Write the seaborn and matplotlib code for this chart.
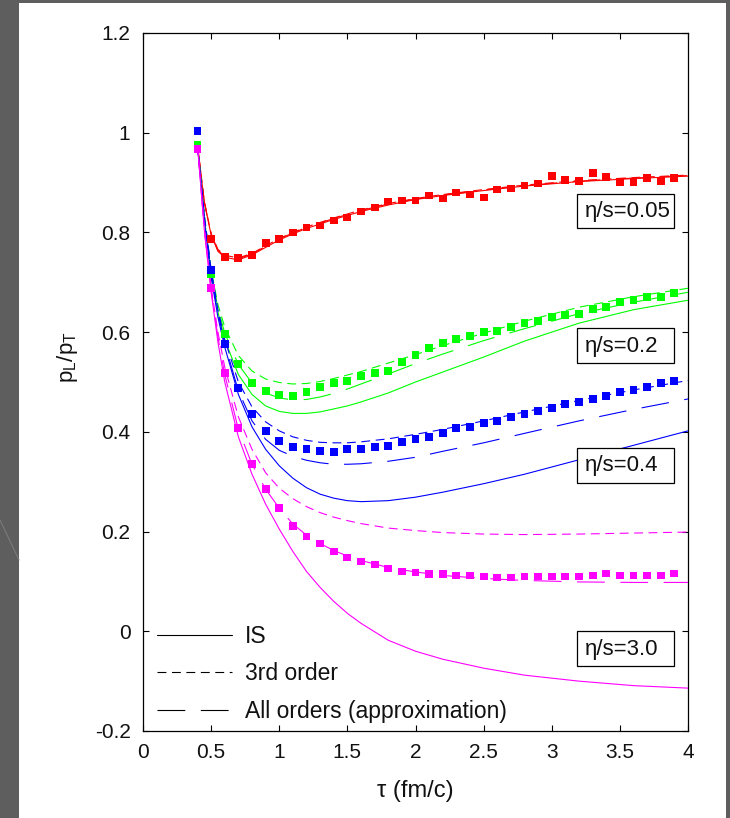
import numpy as np
import pandas as pd
import matplotlib
matplotlib.use("Agg")
import matplotlib.pyplot as plt
from matplotlib.lines import Line2D
from matplotlib.patches import Rectangle
from matplotlib.ticker import FuncFormatter, MultipleLocator
import seaborn as sns

# ---------------- data ----------------
# proper time of the sampled points (fm/c)
tau_pts = [0.4, 0.5, 0.6, 0.7, 0.8, 0.9, 1.0, 1.1, 1.2, 1.3, 1.4, 1.5,
           1.6, 1.7, 1.8, 1.9, 2.0, 2.1, 2.2, 2.3, 2.4, 2.5, 2.6, 2.7,
           2.8, 2.9, 3.0, 3.1, 3.2, 3.3, 3.4, 3.5, 3.6, 3.7, 3.8, 3.9]

# transport results, pL/pT
pts_005 = [0.970, 0.786, 0.750, 0.748, 0.754, 0.778, 0.786, 0.800, 0.810, 0.814,
           0.824, 0.830, 0.842, 0.850, 0.862, 0.864, 0.864, 0.874, 0.868, 0.880,
           0.876, 0.870, 0.886, 0.888, 0.894, 0.898, 0.914, 0.906, 0.904, 0.920,
           0.912, 0.902, 0.902, 0.910, 0.904, 0.910]
pts_02 = [0.975, 0.716, 0.596, 0.536, 0.498, 0.482, 0.474, 0.472, 0.480, 0.490,
          0.498, 0.502, 0.512, 0.518, 0.522, 0.540, 0.554, 0.568, 0.578, 0.586,
          0.592, 0.600, 0.602, 0.610, 0.618, 0.622, 0.630, 0.634, 0.636, 0.646,
          0.650, 0.660, 0.664, 0.670, 0.670, 0.678]
pts_04 = [1.003, 0.724, 0.576, 0.488, 0.436, 0.402, 0.382, 0.370, 0.366, 0.362,
          0.360, 0.366, 0.366, 0.370, 0.372, 0.380, 0.386, 0.390, 0.398, 0.408,
          0.410, 0.418, 0.422, 0.430, 0.436, 0.442, 0.448, 0.456, 0.460, 0.466,
          0.472, 0.480, 0.484, 0.490, 0.498, 0.502]
pts_30 = [0.968, 0.688, 0.518, 0.408, 0.336, 0.286, 0.248, 0.212, 0.190, 0.176,
          0.160, 0.148, 0.140, 0.134, 0.126, 0.120, 0.118, 0.115, 0.115, 0.112,
          0.112, 0.110, 0.108, 0.108, 0.110, 0.110, 0.110, 0.110, 0.110, 0.112,
          0.116, 0.112, 0.112, 0.112, 0.112, 0.116]

# proper time of the hydrodynamic curves (fm/c)
tau_curve = [0.4, 0.45, 0.5, 0.55, 0.6, 0.7, 0.8, 0.9, 1.0, 1.1, 1.2, 1.3,
             1.4, 1.5, 1.6, 1.8, 2.0, 2.2, 2.5, 2.8, 3.2, 3.6, 4.0]

# eta/s = 0.05
is_005 = [0.975, 0.860, 0.795, 0.762, 0.750, 0.745, 0.755, 0.770, 0.785, 0.797,
          0.808, 0.817, 0.826, 0.834, 0.842, 0.855, 0.866, 0.874, 0.884, 0.893,
          0.902, 0.908, 0.913]
o3_005 = [0.975, 0.862, 0.798, 0.766, 0.754, 0.749, 0.758, 0.773, 0.788, 0.800,
          0.811, 0.820, 0.829, 0.837, 0.845, 0.858, 0.868, 0.876, 0.886, 0.895,
          0.904, 0.910, 0.915]
all_005 = [0.975, 0.861, 0.797, 0.764, 0.752, 0.747, 0.757, 0.772, 0.787, 0.799,
           0.810, 0.819, 0.828, 0.836, 0.844, 0.857, 0.867, 0.875, 0.885, 0.894,
           0.903, 0.909, 0.914]
# eta/s = 0.2
is_02 = [0.975, 0.830, 0.715, 0.640, 0.585, 0.515, 0.475, 0.452, 0.441, 0.437,
         0.437, 0.440, 0.446, 0.452, 0.460, 0.478, 0.500, 0.520, 0.550, 0.582,
         0.618, 0.645, 0.664]
o3_02 = [0.975, 0.835, 0.725, 0.655, 0.610, 0.553, 0.522, 0.506, 0.499, 0.496,
         0.497, 0.501, 0.507, 0.514, 0.521, 0.538, 0.555, 0.573, 0.598, 0.622,
         0.650, 0.671, 0.688]
all_02 = [0.975, 0.832, 0.720, 0.648, 0.598, 0.535, 0.498, 0.478, 0.468, 0.464,
          0.465, 0.470, 0.477, 0.486, 0.496, 0.516, 0.537, 0.556, 0.583, 0.607,
          0.637, 0.660, 0.680]
# eta/s = 0.4
is_04 = [0.975, 0.825, 0.710, 0.630, 0.570, 0.475, 0.410, 0.365, 0.332, 0.307,
         0.288, 0.275, 0.267, 0.262, 0.260, 0.262, 0.269, 0.279, 0.296, 0.315,
         0.344, 0.373, 0.402]
o3_04 = [0.975, 0.835, 0.725, 0.645, 0.585, 0.500, 0.450, 0.420, 0.402, 0.390,
         0.383, 0.379, 0.378, 0.378, 0.380, 0.386, 0.395, 0.405, 0.422, 0.440,
         0.463, 0.484, 0.503]
all_04 = [0.975, 0.830, 0.720, 0.640, 0.577, 0.482, 0.422, 0.385, 0.363, 0.351,
          0.343, 0.338, 0.335, 0.335, 0.336, 0.341, 0.349, 0.361, 0.378, 0.397,
          0.422, 0.445, 0.466]
# eta/s = 3.0
is_30 = [0.975, 0.805, 0.680, 0.580, 0.500, 0.390, 0.315, 0.255, 0.205, 0.160,
         0.120, 0.088, 0.060, 0.036, 0.016, -0.018, -0.040, -0.056, -0.074, -0.088,
         -0.100, -0.109, -0.114]
o3_30 = [0.975, 0.810, 0.690, 0.600, 0.530, 0.430, 0.365, 0.318, 0.287, 0.266,
         0.250, 0.238, 0.229, 0.222, 0.216, 0.207, 0.202, 0.198, 0.195, 0.194,
         0.195, 0.197, 0.199]
all_30 = [0.975, 0.805, 0.685, 0.590, 0.515, 0.405, 0.335, 0.285, 0.247, 0.215,
          0.193, 0.176, 0.162, 0.151, 0.142, 0.128, 0.119, 0.112, 0.106, 0.102,
          0.099, 0.098, 0.098]

viscosities = ["0.05", "0.2", "0.4", "3.0"]
colors = ["#ff0000", "#00ff00", "#0000ff", "#ff00ff"]
legend_labels = ["IS", "3rd order", "All orders (approximation)"]

# ---------------- style ----------------
sns.set_theme(style="white")
plt.rcParams["font.family"] = ["Liberation Sans", "DejaVu Sans"]
plt.rcParams["mathtext.fontset"] = "custom"
plt.rcParams["mathtext.rm"] = "Liberation Sans"
plt.rcParams["mathtext.it"] = "Liberation Sans:italic"

LW = 0.8
STYLE_IS = "-"
STYLE_3RD = (0, (8, 5))
STYLE_ALL = (0, (25, 14))
TXT = "#111111"

fig = plt.figure(figsize=(7.3, 8.18), dpi=100, facecolor="#5e5e5e")
# white slide panel
fig.add_artist(Rectangle((19 / 730, 0), (726 - 19) / 730, (818 - 3) / 818,
                         transform=fig.transFigure, facecolor="white",
                         edgecolor="none", zorder=0))
fig.add_artist(Line2D([0, 19 / 730], [1 - 520 / 818, 1 - 560 / 818],
                      transform=fig.transFigure, color="#7a7a7a", lw=0.8,
                      zorder=0))

ax = fig.add_axes([143 / 730, 1 - 731 / 818, 545 / 730, 698 / 818])
ax.set_facecolor("white")

curves = [
    (is_005, o3_005, all_005, pts_005),
    (is_02, o3_02, all_02, pts_02),
    (is_04, o3_04, all_04, pts_04),
    (is_30, o3_30, all_30, pts_30),
]

z = 2
for (c_is, c_o3, c_all, pts), col in zip(curves, colors):
    for vals, ls in ((c_is, STYLE_IS), (c_o3, STYLE_3RD), (c_all, STYLE_ALL)):
        df = pd.DataFrame({"tau": tau_curve, "ratio": vals})
        sns.lineplot(data=df, x="tau", y="ratio", ax=ax, color=col, lw=LW,
                     linestyle=ls, sort=False, estimator=None, zorder=z)
    z += 1

for (c_is, c_o3, c_all, pts), col in zip(curves, colors):
    dfp = pd.DataFrame({"tau": tau_pts, "ratio": pts})
    sns.scatterplot(data=dfp, x="tau", y="ratio", ax=ax, color=col, marker="s",
                    s=32, edgecolor="none", linewidth=0, zorder=z)
    z += 1

# viscosity label boxes
box_y = [0.808, 0.538, 0.298, -0.070]
for vis, y0 in zip(viscosities, box_y):
    ax.add_patch(Rectangle((3.187, y0), 0.71, 0.07, facecolor="white",
                           edgecolor="black", lw=0.9, zorder=20))
    ax.text(3.24, y0 + 0.034, "\u03b7/s=" + vis, fontsize=16, ha="left",
            va="center", color=TXT, zorder=21)

# legend
handles = [Line2D([], [], color="black", lw=LW, linestyle=STYLE_IS),
           Line2D([], [], color="black", lw=LW, linestyle=STYLE_3RD),
           Line2D([], [], color="black", lw=LW, linestyle=STYLE_ALL)]
leg = ax.legend(handles, legend_labels, loc="upper left",
                bbox_to_anchor=(0.025, 0.152), frameon=False, fontsize=16.5,
                handlelength=3.27, handletextpad=0.57, labelspacing=0.63,
                borderpad=0, borderaxespad=0)
for t in leg.get_texts():
    t.set_color(TXT)
leg.set_zorder(30)

ax.set_xlim(0, 4)
ax.set_ylim(-0.2, 1.2)
ax.xaxis.set_major_locator(MultipleLocator(0.5))
ax.yaxis.set_major_locator(MultipleLocator(0.2))
fmt = FuncFormatter(lambda v, p: "%g" % round(v, 6))
ax.xaxis.set_major_formatter(fmt)
ax.yaxis.set_major_formatter(fmt)
ax.tick_params(axis="both", which="major", direction="in", length=4.5,
               width=0.8, color="black", labelsize=15, labelcolor=TXT,
               top=True, right=True, bottom=True, left=True)
ax.tick_params(axis="y", pad=9)
ax.tick_params(axis="x", pad=9)
for s in ax.spines.values():
    s.set_color("black")
    s.set_linewidth(0.9)
    s.set_visible(True)

ax.set_xlabel("\u03c4 (fm/c)", fontsize=17, color=TXT)
ax.set_ylabel(r"$\mathregular{p_L/p_T}$", fontsize=16, color=TXT)
ax.xaxis.set_label_coords(0.5, -0.07)
ax.yaxis.set_label_coords(-0.115, 0.535)

fig.savefig("out.png", dpi=100, facecolor=fig.get_facecolor())
